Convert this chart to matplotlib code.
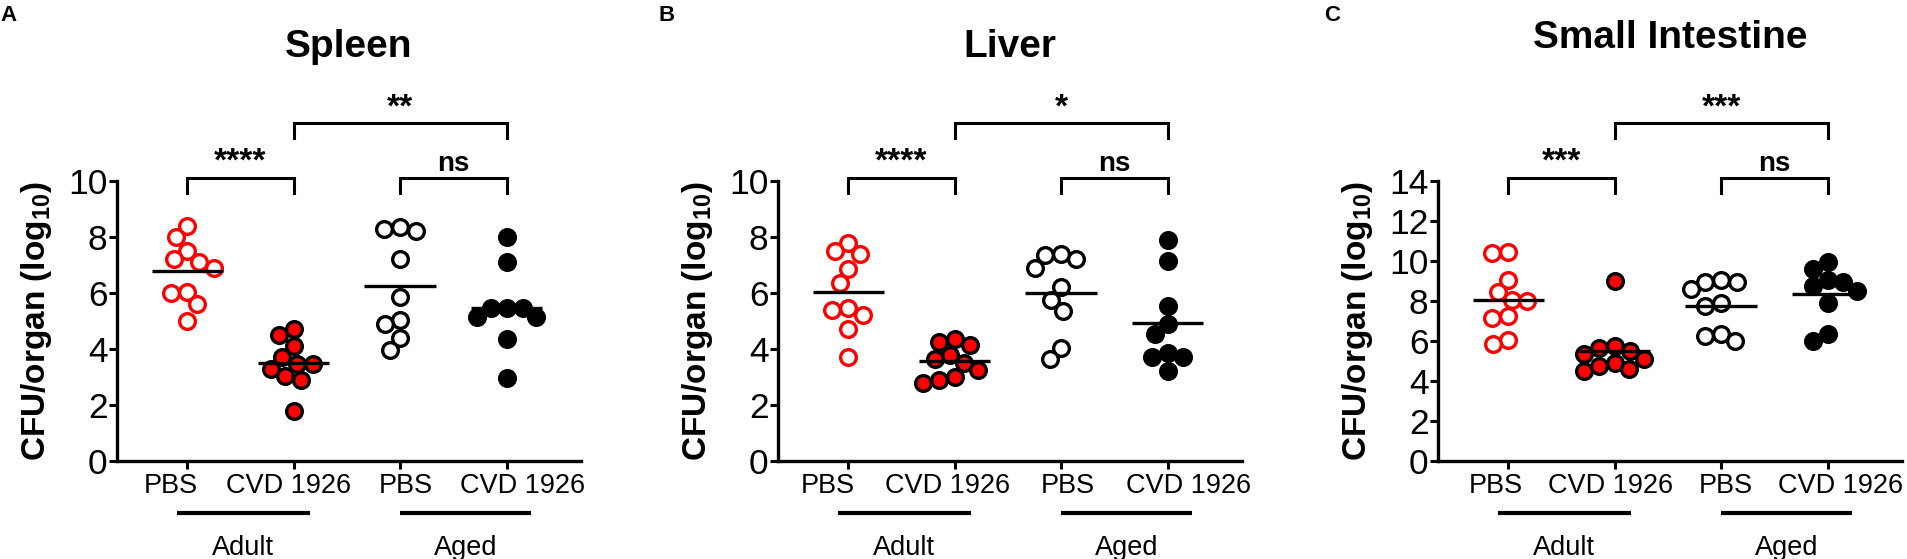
import numpy as np
import matplotlib
matplotlib.use("Agg")
import matplotlib.pyplot as plt

plt.rcParams['font.family'] = ['Liberation Sans', 'DejaVu Sans']
plt.rcParams['mathtext.fontset'] = 'custom'
plt.rcParams['mathtext.rm'] = 'Liberation Sans'
plt.rcParams['mathtext.bf'] = 'Liberation Sans:bold'

# data (CFU/organ, log10)
organs = ['Spleen', 'Liver', 'Small Intestine']
panel_letters = ['A', 'B', 'C']
group_labels = ['PBS', 'CVD 1926', 'PBS', 'CVD 1926']
age_labels = ['Adult', 'Aged']
y_max = [10, 10, 14]

spleen_adult_pbs = [8.4, 8.0, 7.5, 7.2, 7.1, 6.9, 6.05, 6.0, 5.6, 5.0]
spleen_adult_cvd = [4.7, 4.5, 4.1, 3.7, 3.45, 3.45, 3.3, 3.05, 2.9, 1.8]
spleen_aged_pbs = [8.35, 8.3, 8.2, 7.2, 5.85, 5.05, 4.9, 4.4, 3.95]
spleen_aged_cvd = [8.0, 7.1, 5.45, 5.45, 5.45, 5.15, 5.15, 4.35, 2.95]

liver_adult_pbs = [7.8, 7.5, 7.4, 6.85, 6.35, 5.45, 5.4, 5.2, 4.7, 3.7]
liver_adult_cvd = [4.35, 4.25, 4.15, 3.8, 3.65, 3.5, 3.25, 3.0, 2.9, 2.8]
liver_aged_pbs = [7.4, 7.35, 7.2, 6.9, 6.2, 5.75, 5.35, 4.05, 3.65]
liver_aged_cvd = [7.9, 7.15, 5.55, 4.9, 4.55, 3.85, 3.7, 3.7, 3.2]

si_adult_pbs = [10.45, 10.4, 9.05, 8.45, 8.05, 8.0, 7.25, 7.15, 6.05, 5.85]
si_adult_cvd = [9.0, 5.75, 5.65, 5.5, 5.35, 5.1, 4.9, 4.75, 4.6, 4.5]
si_aged_pbs = [9.05, 8.95, 8.95, 8.6, 7.9, 7.75, 6.35, 6.25, 6.0]
si_aged_cvd = [9.95, 9.6, 9.05, 8.95, 8.75, 8.5, 7.9, 6.35, 6.0]

panel_data = [
    [spleen_adult_pbs, spleen_adult_cvd, spleen_aged_pbs, spleen_aged_cvd],
    [liver_adult_pbs, liver_adult_cvd, liver_aged_pbs, liver_aged_cvd],
    [si_adult_pbs, si_adult_cvd, si_aged_pbs, si_aged_cvd],
]
sig_labels = [
    ['****', 'ns', '**'],
    ['****', 'ns', '*'],
    ['***', 'ns', '***'],
]

RED = '#ff0000'
marker_styles = [
    dict(mfc='white', mec=RED),
    dict(mfc=RED, mec='black'),
    dict(mfc='white', mec='black'),
    dict(mfc='black', mec='black'),
]


def swarm(ax, x0, vals, diam):
    # simple beeswarm in pixel space
    p0 = ax.transData.transform((0, 0))
    px_per_x = ax.transData.transform((1, 0))[0] - p0[0]
    placed = []
    for v in vals:
        y = ax.transData.transform((x0, v))[1]
        cands = [0.0]
        for px, py in placed:
            dy = abs(y - py)
            if dy < diam:
                w = np.sqrt(diam ** 2 - dy ** 2)
                cands += [px - w, px + w]
        cands.sort(key=lambda c: (round(abs(c), 3), c))
        for c in cands:
            if all((c - px) ** 2 + (y - py) ** 2 >= diam ** 2 - 1e-6 for px, py in placed):
                placed.append((c, y))
                break
    return [c / px_per_x for c, _ in placed]


fig = plt.figure(figsize=(19.08, 5.59), dpi=100)
W, H = 1908, 559
axes_left_px = [117, 778, 1438]
label_spread = [1.10, 1.13, 1.08]
title_base = [1.443, 1.443, 1.475]
letter_x_px = [0, 658, 1324]

for i in range(3):
    ax = fig.add_axes([axes_left_px[i] / W, (H - 461) / H, 464 / W, 280 / H])
    ax.set_xlim(-0.66, 3.7)
    ax.set_ylim(0, y_max[i])
    ax.set_yticks(np.arange(0, y_max[i] + 1, 2))
    ax.set_xticks(range(4))
    ax.set_xticklabels([])
    for s in ['top', 'right']:
        ax.spines[s].set_visible(False)
    for s in ['left', 'bottom']:
        ax.spines[s].set_linewidth(2.4)
    ax.tick_params(axis='both', direction='out', length=5.8, width=2.2)
    ax.tick_params(axis='y', labelsize=25.5, pad=1)

    for g, vals in enumerate(panel_data[i]):
        offs = swarm(ax, g, vals, 16)
        ax.plot(np.array(offs) + g, vals, 'o', ms=11.3, mew=2.4, ls='none',
                clip_on=False, zorder=3, **marker_styles[g])
        m = np.mean(vals)
        ax.plot([g - 0.335, g + 0.335], [m, m], color='black', lw=2.4,
                solid_capstyle='butt', zorder=4)

    trans = ax.get_xaxis_transform()
    # x tick labels, spread a little wider than the ticks
    for g, lab in enumerate(group_labels):
        xl = 1.5 + (g - 1.5) * label_spread[i]
        ax.text(xl, -0.114, lab, transform=trans, ha='center', va='baseline',
                fontsize=19.5)
    # age group underlines
    for (a, b), lab in zip([(-0.1, 1.15), (2.0, 3.23)], age_labels):
        ax.plot([a, b], [-0.186, -0.186], transform=trans, color='black',
                lw=3, clip_on=False, solid_capstyle='butt')
        ax.text((a + b) / 2, -0.336, lab, transform=trans, ha='center',
                va='baseline', fontsize=19.5)

    # significance brackets
    brackets = [(0, 1, 1.011, 0.957, 1.036), (2, 3, 1.011, 0.957, 1.036),
                (1, 3, 1.207, 1.154, 1.229)]
    for (a, b, top, drop, ty), lab in zip(brackets, sig_labels[i]):
        ax.plot([a, a, b, b], [drop, top, top, drop], transform=trans,
                color='black', lw=2.2, clip_on=False, solid_joinstyle='miter')
        fs = 20 if lab == 'ns' else 24
        ax.text((a + b) / 2, ty, lab, transform=trans, ha='center',
                va='baseline', fontsize=fs, fontweight='bold')

    ax.set_ylabel(r'CFU/organ (log$_{\mathbf{10}}$)', fontsize=24,
                  fontweight='bold')
    ax.yaxis.set_label_coords(-0.135, 0.5)
    ax.text(0.5, title_base[i], organs[i], transform=ax.transAxes,
            ha='center', va='baseline', fontsize=28, fontweight='bold')
    fig.text(letter_x_px[i] / W, 1 - 5 / H, panel_letters[i], ha='left',
             va='top', fontsize=16, fontweight='bold')

fig.savefig('out.png', dpi=100)
